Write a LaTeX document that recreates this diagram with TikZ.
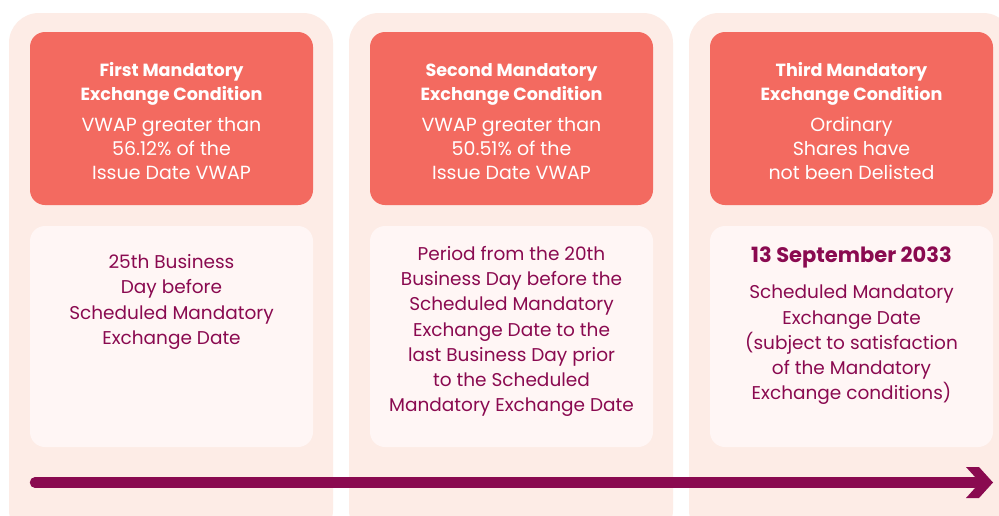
\documentclass[tikz,border=0pt]{standalone}
\usepackage{fontspec}
\setmainfont{Poppins}
\definecolor{peach}{HTML}{FDECE6}
\definecolor{redbox}{HTML}{F36A60}
\definecolor{pale}{HTML}{FFF6F5}
\definecolor{plum}{HTML}{8A0A50}
\begin{document}
\begin{tikzpicture}[x=1pt,y=-1pt,
  colbox/.style={fill=peach,rounded corners=30pt},
  condbox/.style={fill=redbox,rounded corners=15pt},
  datebox/.style={fill=pale,rounded corners=15pt},
  condtitle/.style={text=white,align=center,font=\fontsize{17.6}{24}\selectfont\bfseries},
  condtext/.style={text=white,align=center,font=\fontsize{19}{24}\selectfont},
  datetext/.style={text=plum,align=center,font=\fontsize{18.5}{25.3}\selectfont},
  datebold/.style={text=plum,align=center,font=\fontsize{21}{26}\selectfont\bfseries}]
\useasboundingbox (0,0) rectangle (999,515);
\fill[white] (0,0) rectangle (999,515);
% columns
\fill[colbox] (9,13) rectangle (333,540);
\fill[colbox] (349,13) rectangle (673,540);
\fill[colbox] (689,13) rectangle (1013,540);
% condition boxes
\fill[condbox] (30,32) rectangle (313,205);
\fill[condbox] (370,32) rectangle (653,205);
\fill[condbox] (710,32) rectangle (993,205);
% date boxes
\fill[datebox] (30,226) rectangle (313,447);
\fill[datebox] (370,226) rectangle (653,447);
\fill[datebox] (710,226) rectangle (993,447);
% condition texts
\node[condtitle] (t1) at (171.5,84) {First Mandatory\\Exchange Condition};
\node[condtext] (c1) at (171.5,148.5) {VWAP greater than\\56.12\% of the\\Issue Date VWAP};
\node[condtitle] (t2) at (511.5,84) {Second Mandatory\\Exchange Condition};
\node[condtext] (c2) at (511.5,148.5) {VWAP greater than\\50.51\% of the\\Issue Date VWAP};
\node[condtitle] (t3) at (851.5,84) {Third Mandatory\\Exchange Condition};
\node[condtext] (c3) at (851.5,148.5) {Ordinary\\Shares have\\not been Delisted};
% date texts
\node[datetext] (d1) at (171.5,302) {25th Business\\Day before\\Scheduled Mandatory\\Exchange Date};
\node[datetext] (d2) at (511.5,331.5) {Period from the 20th\\Business Day before the\\Scheduled Mandatory\\Exchange Date to the\\last Business Day prior\\to the Scheduled\\Mandatory Exchange Date};
\node[datebold] (d3h) at (851.5,257) {13 September 2033};
\node[datetext] (d3) at (851.5,345) {Scheduled Mandatory\\Exchange Date\\(subject to satisfaction\\of the Mandatory\\Exchange conditions)};
% timeline arrow
\coordinate (a0) at (35,482.5);
\coordinate (a1) at (975,482.5);
\coordinate (tip) at (993,482.5);
\draw[plum,line width=10.5pt,line cap=round] (a0) -- (a1);
\fill[plum] ([shift={(-27,-15.5)}]tip) -- ([shift={(-14,-15.5)}]tip) -- (tip) -- ([shift={(-14,15.5)}]tip) -- ([shift={(-27,15.5)}]tip) -- ([shift={(-13,0)}]tip) -- cycle;
\end{tikzpicture}
\end{document}
